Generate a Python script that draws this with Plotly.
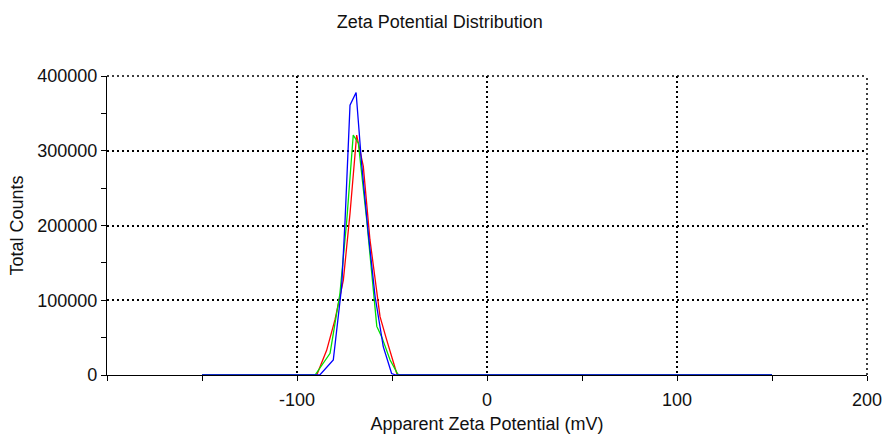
import plotly.graph_objects as go

# Data (Apparent Zeta Potential in mV, Total Counts)
red_x = [-150, -89.6, -84.4, -80.0, -75.6, -72.1, -68.6, -65.1, -61.6, -56.3, -52.8, -47.5, -46.0, 150]
red_y = [0, 0, 33000, 74000, 127000, 216000, 321000, 279000, 181000, 78000, 47000, 2000, 0, 0]

green_x = [-150, -90.5, -82.6, -77.4, -73.8, -70.4, -67.7, -63.3, -58.0, -55.4, -51.0, -46.7, 150]
green_y = [0, 0, 29000, 109000, 207000, 321000, 310000, 207000, 65000, 51000, 20000, 0, 0]

blue_x = [-150, -88.0, -80.9, -76.5, -74.7, -72.1, -68.9, -66.0, -62.5, -58.9, -54.6, -50.2, -48.0, 150]
blue_y = [0, 0, 20000, 118000, 207000, 361000, 378000, 283000, 190000, 105000, 38000, 2000, 0, 0]

x_tickvals = [-200, -100, 0, 100, 200]
x_ticktext = ["", "-100", "0", "100", "200"]
y_tickvals = [0, 100000, 200000, 300000, 400000]
y_ticktext = ["0", "100000", "200000", "300000", "400000"]

FONT = "Liberation Sans, Arial, sans-serif"
GRID_DASH = "2px,3px"
TXT = "#111111"

fig = go.Figure()
for xs, ys, col in [(red_x, red_y, "#ff0000"), (green_x, green_y, "#00e000"), (blue_x, blue_y, "#0000ff")]:
    fig.add_trace(go.Scatter(x=xs, y=ys, mode="lines", line=dict(color=col, width=1.3),
                             showlegend=False, hoverinfo="x+y"))

axis_common = dict(
    showline=True, linecolor="black", linewidth=1.3,
    showgrid=True, gridcolor="black", griddash=GRID_DASH, gridwidth=1.5,
    zeroline=False, ticks="outside", ticklen=5, tickcolor="black", tickwidth=1.3,
    tickfont=dict(family=FONT, size=18, color=TXT),
    layer="below traces", automargin=False,
)

fig.update_xaxes(
    range=[-200, 200], tickmode="array", tickvals=x_tickvals, ticktext=x_ticktext,
    minor=dict(dtick=50, tick0=-150, ticks="outside", ticklen=5, tickcolor="black", tickwidth=1.3, showgrid=False),
    title=dict(text="Apparent Zeta Potential (mV)", font=dict(family=FONT, size=18, color=TXT), standoff=15),
    ticklabelstandoff=3,
    **axis_common,
)
fig.update_yaxes(
    range=[0, 400000], tickmode="array", tickvals=y_tickvals, ticktext=y_ticktext,
    minor=dict(dtick=50000, tick0=0, ticks="outside", ticklen=5, tickcolor="black", tickwidth=1.3, showgrid=False),
    title=dict(text="Total Counts", font=dict(family=FONT, size=18, color=TXT), standoff=8),
    ticklabelstandoff=0,
    **axis_common,
)

# dotted frame lines at the top and right edges (plotly drops grid lines at range ends)
fig.add_shape(type="line", xref="paper", yref="paper", x0=0, x1=1, y0=1, y1=1,
              line=dict(color="black", width=1.5, dash=GRID_DASH), layer="below")
fig.add_shape(type="line", xref="paper", yref="paper", x0=1, x1=1, y0=0, y1=1,
              line=dict(color="black", width=1.5, dash=GRID_DASH), layer="below")

fig.update_layout(
    width=883, height=434,
    margin=dict(l=107, r=16, t=76, b=59),
    paper_bgcolor="white", plot_bgcolor="white",
    title=dict(text="Zeta Potential Distribution", x=0.498, xanchor="center",
               y=1 - 22 / 434, yref="container", yanchor="middle",
               font=dict(family=FONT, size=18, color=TXT)),
)

fig.write_html("out.html")
